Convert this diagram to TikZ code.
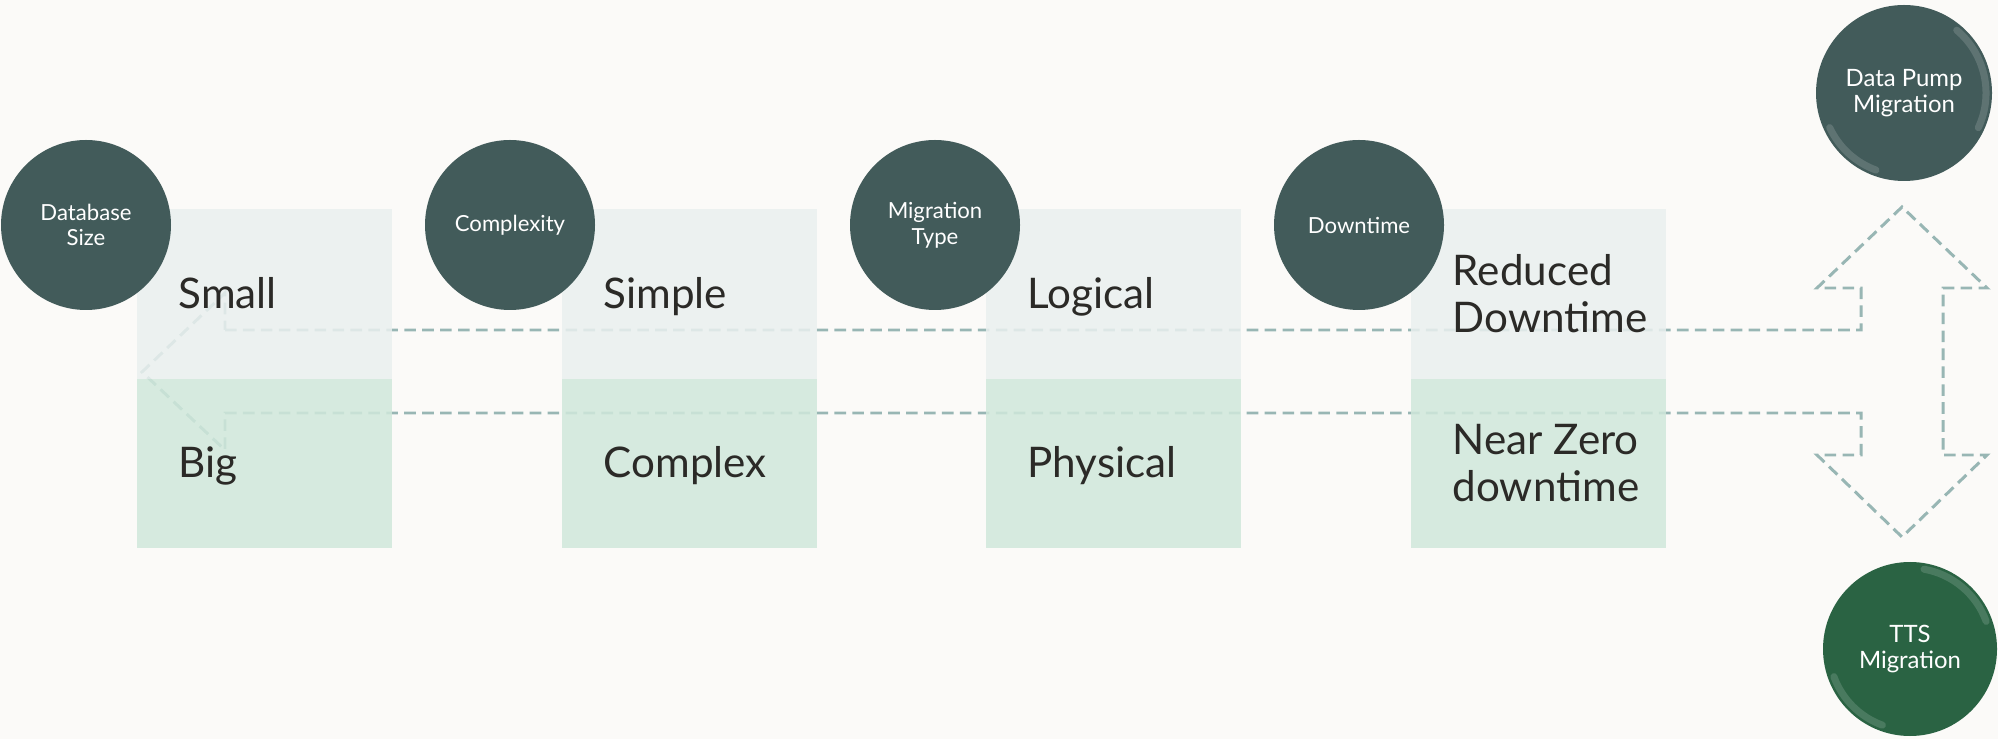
\documentclass[tikz,border=0pt]{standalone}
\usepackage{fontspec}
\setmainfont{Lato}
\usetikzlibrary{positioning}
\definecolor{paper}{HTML}{FBFAF8}
\definecolor{slate}{HTML}{425B5A}
\definecolor{pine}{HTML}{2A6343}
\definecolor{mist}{HTML}{EAF0EF}
\definecolor{mint}{HTML}{D0E8DB}
\definecolor{trail}{HTML}{98B6B4}
\definecolor{ink}{HTML}{2B2A27}

\begin{document}
\begin{tikzpicture}[
        bubble/.style={circle,fill=slate,text=white,minimum size=1.70cm,inner sep=0pt,align=center,font=\fontsize{6.3}{7.3}\selectfont},
        tophalf/.style={fill=mist,fill opacity=0.85,minimum width=2.55cm,minimum height=1.70cm,inner sep=0pt,anchor=north west},
        bothalf/.style={fill=mint,fill opacity=0.85,minimum width=2.55cm,minimum height=1.69cm,inner sep=0pt,anchor=north west},
        choice/.style={text=ink,align=left,inner sep=0pt,font=\fontsize{12}{13.4}\selectfont},
        oneline/.style={choice,text height=11.4pt,text depth=3pt},
        trailline/.style={trail,line width=0.85pt,dash pattern=on 3.3pt off 1.8pt},
        gloss/.style={line width=2pt,line cap=round,white,opacity=0.15}
    ]
        \fill[paper] (0,0) rectangle (19.98,7.39);
        \useasboundingbox (0,0) rectangle (19.98,7.39);
        % dashed double arrow behind the boxes
        \draw[trailline] (2.25,4.09)--(18.61,4.09)--(18.61,4.51)--(18.17,4.51)--(19.02,5.32)--(19.87,4.51)--(19.43,4.51)
            --(19.43,2.84)--(19.87,2.84)--(19.02,2.02)--(18.17,2.84)--(18.61,2.84)--(18.61,3.26)--(2.25,3.26)
            --(2.25,2.89)--(1.42,3.67)--(2.25,4.46)--cycle;
        % boxes
        \node[tophalf] (sizetop) at (1.36,5.31) {};
        \node[bothalf] (sizebot) at (1.36,3.61) {};
        \node[tophalf] (complextop) at (5.61,5.31) {};
        \node[bothalf] (complexbot) at (5.61,3.61) {};
        \node[tophalf] (typetop) at (9.85,5.31) {};
        \node[bothalf] (typebot) at (9.85,3.61) {};
        \node[tophalf] (downtop) at (14.10,5.31) {};
        \node[bothalf] (downbot) at (14.10,3.61) {};
        \node[oneline,right=4.2mm of sizetop.west] (small) {Small};
        \node[oneline,right=4.2mm of sizebot.west] (big) {Big};
        \node[oneline,right=4.2mm of complextop.west] (simple) {Simple};
        \node[oneline,right=4.2mm of complexbot.west] (complex) {Complex};
        \node[oneline,right=4.2mm of typetop.west] (logical) {Logical};
        \node[oneline,right=4.2mm of typebot.west] (physical) {Physical};
        \node[choice,right=4.2mm of downtop.west] (reduced) {Reduced\\Downtime};
        \node[choice,right=4.2mm of downbot.west] (nearzero) {Near Zero\\downtime};
        % question circles
        \node[bubble] (sizeq) at (0.86,5.14) {Database\\Size};
        \node[bubble] (complexq) at (5.10,5.14) {Complexity};
        \node[bubble] (typeq) at (9.35,5.14) {Migration\\Type};
        \node[bubble] (downq) at (13.59,5.14) {Downtime};
        % outcomes
        \node[bubble,minimum size=1.76cm,font=\fontsize{6.8}{7.4}\selectfont] (pump) at (19.04,6.46) {Data Pump\\Migration};
        \node[bubble,fill=pine,minimum size=1.74cm,font=\fontsize{6.8}{7.4}\selectfont] (tts) at (19.10,0.90) {TTS\\Migration};
        \draw[gloss] ([shift={(50:0.82)}]pump.center) arc[radius=0.82,start angle=50,end angle=-25];
        \draw[gloss] ([shift={(205:0.82)}]pump.center) arc[radius=0.82,start angle=205,end angle=250];
        \draw[gloss] ([shift={(80:0.81)}]tts.center) arc[radius=0.81,start angle=80,end angle=20];
        \draw[gloss] ([shift={(200:0.81)}]tts.center) arc[radius=0.81,start angle=200,end angle=250];
    \end{tikzpicture}
\end{document}
